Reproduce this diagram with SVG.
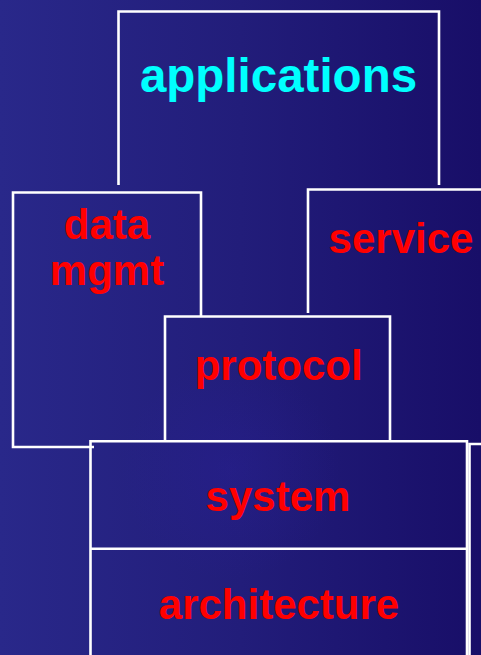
<svg xmlns="http://www.w3.org/2000/svg" width="481" height="655" viewBox="0 0 481 655">
  <defs>
    <linearGradient id="bg" x1="0" y1="0" x2="1" y2="0">
      <stop offset="0" stop-color="#29288a"/>
      <stop offset="0.5" stop-color="#221d7a"/>
      <stop offset="1" stop-color="#180e68"/>
    </linearGradient>
    <radialGradient id="glow" cx="230" cy="470" r="110" gradientUnits="userSpaceOnUse">
      <stop offset="0" stop-color="#2a1f9a" stop-opacity="0.35"/>
      <stop offset="1" stop-color="#2a1f9a" stop-opacity="0"/>
    </radialGradient>
  </defs>
  <style>
    .edge { fill: none; stroke: #ffffff; stroke-width: 2.6; }
    .lbl { font-family: "Liberation Sans", Arial, sans-serif; font-weight: bold; text-anchor: middle; }
    .red { fill: #ff0000; font-size: 42px; }
    .cyan { fill: #00ffff; font-size: 47.5px; }
  </style>
  <rect x="0" y="0" width="481" height="655" fill="url(#bg)"/>
  <rect x="0" y="0" width="481" height="655" fill="url(#glow)"/>

  <g id="applications">
    <polyline class="edge" points="118.5,185 118.5,11.5 439,11.5 439,185"/>
    <text class="lbl cyan" x="278.5" y="91.5">applications</text>
  </g>
  <g id="data-mgmt">
    <polyline class="edge" points="201,316 201,192.5 13,192.5 13,447 94,447"/>
    <text class="lbl red" x="107" y="238.5">data</text>
    <text class="lbl red" x="107" y="284.5">mgmt</text>
  </g>
  <g id="service">
    <polyline class="edge" points="308,313 308,189.5 482,189.5"/>
    <text class="lbl red" x="401" y="252.5">service</text>
  </g>
  <g id="protocol">
    <polyline class="edge" points="165,441 165,316.5 390,316.5 390,441"/>
    <text class="lbl red" x="278.7" y="379.5">protocol</text>
  </g>
  <g id="right-edge">
    <polyline class="edge" points="482,444 469.5,444 469.5,656"/>
  </g>
  <g id="system">
    <polyline class="edge" points="90.5,656 90.5,441.3 467,441.3 467,656"/>
    <text class="lbl red" x="278" y="511">system</text>
  </g>
  <g id="architecture">
    <line class="edge" x1="90.5" y1="548.7" x2="467" y2="548.7"/>
    <text class="lbl red" x="279" y="619">architecture</text>
  </g>
  <g id="connectors"></g>
</svg>
